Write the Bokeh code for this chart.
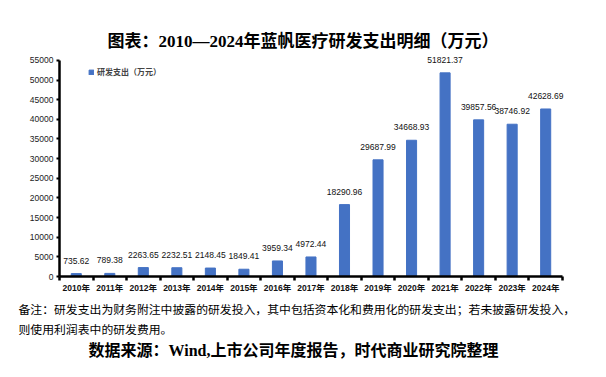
from bokeh.plotting import figure
from bokeh.models import (ColumnDataSource, Range1d, FixedTicker, SingleIntervalTicker,
                          LabelSet, Title, Legend, LegendItem)
from bokeh.core.properties import value
from bokeh.embed import file_html
from bokeh.resources import INLINE

years = ["2010年", "2011年", "2012年", "2013年", "2014年", "2015年", "2016年", "2017年",
         "2018年", "2019年", "2020年", "2021年", "2022年", "2023年", "2024年"]
rd_spend = [735.62, 789.38, 2263.65, 2232.51, 2148.45, 1849.41, 3959.34, 4972.44,
            18290.96, 29687.99, 34668.93, 51821.37, 39857.56, 38746.92, 42628.69]
series_name = "研发支出（万元）"
title_text = "图表：2010—2024年蓝帆医疗研发支出明细（万元）"
note_line1 = "备注：研发支出为财务附注中披露的研发投入，其中包括资本化和费用化的研发支出；若未披露研发投入，"
note_line2 = "则使用利润表中的研发费用。"
source_text = "数据来源：Wind,上市公司年度报告，时代商业研究院整理"

LAT = "Liberation Sans, Noto Sans CJK SC"
SERIF = "Liberation Serif, Noto Sans CJK SC"
CJK = "Noto Sans CJK SC"

xs = [i + 0.5 for i in range(len(years))]
src = ColumnDataSource(dict(x=xs, y=rd_spend, lab=[f"{v:.2f}" for v in rd_spend]))

p = figure(width=590, height=370, output_backend="svg", toolbar_location=None,
           x_range=Range1d(0, 15.3), y_range=Range1d(0, 57000),
           min_border_left=59, min_border_right=18, min_border_top=52, min_border_bottom=94)
p.outline_line_color = None
p.grid.visible = False
p.background_fill_color = "white"
p.border_fill_color = "white"

bars = p.vbar(x="x", top="y", width=0.3, source=src, color="#4472C4")

# y axis
ya = p.yaxis[0]
ya.bounds = (0, 55000)
ya.ticker = SingleIntervalTicker(interval=5000, num_minor_ticks=0)
ya.axis_line_width = 2.5
ya.axis_line_color = "black"
ya.major_tick_out = 3
ya.major_tick_in = 0
ya.major_tick_line_width = 2
ya.minor_tick_line_color = None
ya.major_label_standoff = 3
ya.major_label_text_font = LAT
ya.major_label_text_font_size = "8.5px"
ya.major_label_text_color = "#222222"

# x axis
xa = p.xaxis[0]
xa.bounds = (0, len(years))
xa.ticker = FixedTicker(ticks=xs, minor_ticks=list(range(len(years) + 1)))
xa.major_label_overrides = {x: y for x, y in zip(xs, years)}
xa.axis_line_width = 2.5
xa.axis_line_color = "black"
xa.major_tick_line_color = None
xa.minor_tick_out = 4
xa.minor_tick_in = 0
xa.minor_tick_line_width = 2.5
xa.minor_tick_line_color = "black"
xa.major_label_standoff = 0
xa.major_label_text_font = LAT
xa.major_label_text_font_style = "bold"
xa.major_label_text_font_size = "8.5px"
xa.major_label_text_color = "#111111"

labels = LabelSet(x="x", y="y", text="lab", source=src, y_offset=13,
                  text_align="center", text_baseline="middle",
                  text_font=value("Liberation Sans"), text_font_size=value("8.5px"),
                  text_color="#111111")
p.add_layout(labels)

legend = Legend(items=[LegendItem(label=series_name, renderers=[bars])],
                location=(29, 199), padding=0, margin=0, spacing=0,
                glyph_width=6, glyph_height=6, label_height=6, label_standoff=3,
                label_text_font=CJK, label_text_font_size="8px", label_text_font_style="bold",
                label_text_baseline="middle",
                border_line_color=None, background_fill_alpha=0)
p.add_layout(legend)

p.title.text = title_text
p.title.align = "left"
p.title.offset = 48
p.title.standoff = 3
p.title.text_font = SERIF
p.title.text_font_size = "17px"
p.title.text_font_style = "bold"
p.title.text_color = "black"

def add_below(txt, size, style, offset, standoff, font=CJK):
    p.add_layout(Title(text=txt, align="left", offset=offset, standoff=standoff,
                       text_font=font, text_font_size=size, text_font_style=style,
                       text_color="black"), "below")

add_below(note_line1, "11.85px", "normal", -41, 4)
add_below(note_line2, "11.85px", "normal", -41, -1)
add_below(source_text, "16px", "bold", 29, 6, SERIF)

open("out.html", "w").write(file_html(p, INLINE))
